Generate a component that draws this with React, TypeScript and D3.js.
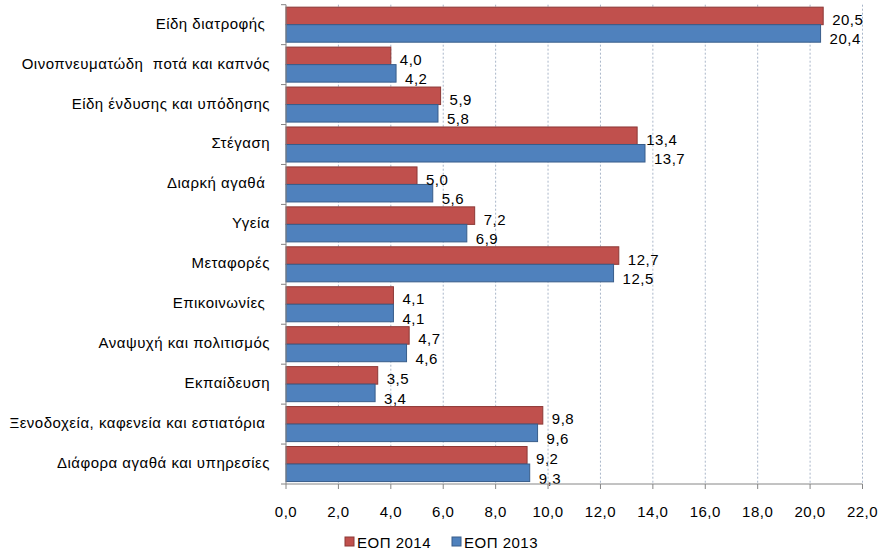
import React from "react";
import * as d3 from "d3";

const categories = [
  "Είδη διατροφής ",
  "Οινοπνευματώδη  ποτά και καπνός",
  "Είδη ένδυσης και υπόδησης",
  "Στέγαση",
  "Διαρκή αγαθά ",
  "Υγεία",
  "Μεταφορές",
  "Επικοινωνίες ",
  "Αναψυχή και πολιτισμός",
  "Εκπαίδευση",
  "Ξενοδοχεία, καφενεία και εστιατόρια ",
  "Διάφορα αγαθά και υπηρεσίες",
];
const eop2014 = [20.5, 4.0, 5.9, 13.4, 5.0, 7.2, 12.7, 4.1, 4.7, 3.5, 9.8, 9.2];
const eop2013 = [20.4, 4.2, 5.8, 13.7, 5.6, 6.9, 12.5, 4.1, 4.6, 3.4, 9.6, 9.3];
const seriesNames = ["ΕΟΠ 2014", "ΕΟΠ 2013"];
const xTicks = [0, 2, 4, 6, 8, 10, 12, 14, 16, 18, 20, 22];

const W = 884;
const H = 557;
const left = 286;
const right = 862.5;
const top = 4.7;
const bottom = 484;
const font = "'Liberation Sans', Arial, sans-serif";
const fs = 15;
const ls = 0.5;
const fill = ["#C0504D", "#4F81BD"];
const stroke = ["#8C3836", "#385D8A"];

const fmt = (v: number) => v.toFixed(1).replace(".", ",");

export default function App() {
  const x = d3.scaleLinear().domain([0, 22]).range([left, right]);
  const y = d3.scaleBand<number>().domain(d3.range(categories.length)).range([top, bottom]);
  const inner = d3.scaleBand<number>().domain([0, 1]).range([0, y.bandwidth()]).paddingOuter(0.14);
  const series = [eop2014, eop2013];
  const bw = inner.bandwidth();

  return (
    <div style={{ position: "absolute", left: 0, top: 0 }}>
      <svg width={W} height={H} style={{ display: "block", fontFamily: font, letterSpacing: ls }}>
        <rect width={W} height={H} fill="#fff" />
        {xTicks.slice(1).map((t) => (
          <line key={t} x1={x(t)} x2={x(t)} y1={top} y2={bottom} stroke="#a9b6c9" strokeWidth={1} strokeDasharray="2,2" />
        ))}
        {series.map((vals, si) =>
          vals.map((v, i) => (
            <rect
              key={`${si}-${i}`}
              x={x(0)}
              y={(y(i) as number) + (inner(si) as number)}
              width={x(v) - x(0)}
              height={bw}
              fill={fill[si]}
              stroke={stroke[si]}
              strokeWidth={1}
            />
          ))
        )}
        {series.map((vals, si) =>
          vals.map((v, i) => (
            <text
              key={`l${si}-${i}`}
              x={x(v) + 9}
              y={(y(i) as number) + (inner(si) as number) + bw / 2 + 4 + (si === 0 ? 1 : 3)}
              fontSize={fs}
              dominantBaseline="middle"
              fill="#000"
            >
              {fmt(v)}
            </text>
          ))
        )}
        <line x1={left} x2={left} y1={top} y2={bottom} stroke="#868686" />
        <line x1={left} x2={right} y1={bottom} y2={bottom} stroke="#868686" />
        {d3.range(categories.length + 1).map((i) => {
          const yy = top + i * y.step();
          return <line key={`yt${i}`} x1={left - 5} x2={left} y1={yy} y2={yy} stroke="#868686" />;
        })}
        {xTicks.map((t) => (
          <g key={`xt${t}`}>
            <line x1={x(t)} x2={x(t)} y1={bottom} y2={bottom + 5} stroke="#868686" />
            <text x={x(t)} y={bottom + 33} textAnchor="middle" fontSize={fs} fill="#000">
              {fmt(t)}
            </text>
          </g>
        ))}
        {categories.map((c, i) => (
          <text
            key={`c${i}`}
            x={left - 16}
            y={(y(i) as number) + y.bandwidth() / 2}
            textAnchor="end"
            dominantBaseline="middle"
            fontSize={fs}
            fill="#000"
            style={{ whiteSpace: "pre" }}
          >
            {c}
          </text>
        ))}
        {seriesNames.map((n, si) => {
          const lx = 345 + si * 107;
          return (
            <g key={`lg${si}`}>
              <rect x={lx} y={537} width={9} height={9} fill={fill[si]} stroke={stroke[si]} />
              <text x={lx + 12} y={548} fontSize={fs} fill="#000">
                {n}
              </text>
            </g>
          );
        })}
      </svg>
    </div>
  );
}
